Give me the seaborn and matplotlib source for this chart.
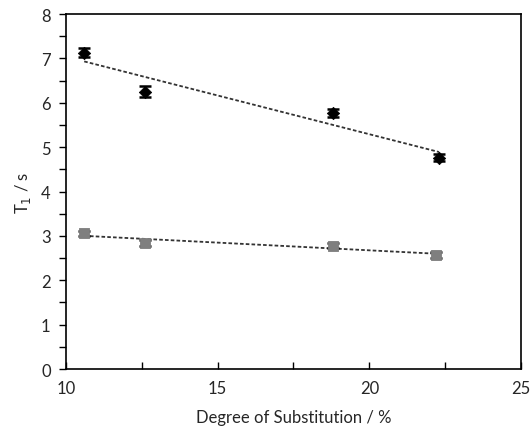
import numpy as np
import pandas as pd
import matplotlib
matplotlib.use("Agg")
import matplotlib.pyplot as plt
import seaborn as sns
from matplotlib.ticker import MultipleLocator

# Data
ds = [10.6, 12.6, 18.8, 22.3]
t1_black = [7.13, 6.25, 5.77, 4.76]
err_black = [0.10, 0.12, 0.10, 0.08]
ds_gray = [10.6, 12.6, 18.8, 22.2]
t1_gray = [3.06, 2.84, 2.78, 2.57]
err_gray = [0.06, 0.06, 0.06, 0.06]

sns.set_theme(style="ticks")
plt.rcParams['font.family'] = ['Lato', 'DejaVu Sans']

fig = plt.figure(figsize=(5.30, 4.31), dpi=100)
ax = fig.add_axes([0.1245, 0.1415, 0.8585, 0.8235])

df_b = pd.DataFrame({"x": ds, "y": t1_black})
df_g = pd.DataFrame({"x": ds_gray, "y": t1_gray})

# trend lines
for d, col in [(df_b, "#333333"), (df_g, "#333333")]:
    sns.regplot(data=d, x="x", y="y", ax=ax, ci=None, scatter=False, truncate=True,
                line_kws=dict(color=col, ls=(0, (2, 1.2)), lw=1.3))

ax.errorbar(ds, t1_black, yerr=err_black, fmt="none", ecolor="black", capsize=4.5, elinewidth=1.2, capthick=1.8, zorder=3)
ax.errorbar(ds_gray, t1_gray, yerr=err_gray, fmt="none", ecolor="black", capsize=4.5, elinewidth=1.2, capthick=1.8, zorder=3)
sns.scatterplot(data=df_b, x="x", y="y", ax=ax, marker="D", s=40, color="black", edgecolor="black", zorder=4)
sns.scatterplot(data=df_g, x="x", y="y", ax=ax, marker="s", s=60, color="#7f7f7f", edgecolor="#7f7f7f", zorder=4)

ax.set_xlim(10, 25)
ax.set_ylim(0, 8)
ax.xaxis.set_major_locator(MultipleLocator(5))
ax.xaxis.set_minor_locator(MultipleLocator(2.5))
ax.yaxis.set_major_locator(MultipleLocator(1))
ax.yaxis.set_minor_locator(MultipleLocator(0.5))
ax.tick_params(axis="x", which="both", direction="in", length=5, width=1, color="black", labelsize=12, pad=8)
ax.tick_params(axis="y", which="both", direction="out", length=5, width=1, color="black", labelsize=12, pad=6)
for s in ax.spines.values():
    s.set_visible(True)
    s.set_color("black")
    s.set_linewidth(1.2)

ax.set_xlabel("Degree of Substitution / %", fontsize=12, labelpad=9)
ax.set_ylabel("T$_1$ / s", fontsize=12, labelpad=6)

fig.savefig("out.png", dpi=100)
